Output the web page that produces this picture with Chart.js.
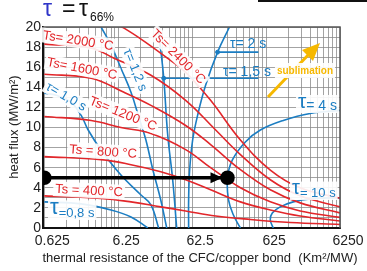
<!DOCTYPE html>
<html>
<head>
<meta charset="utf-8">
<script src="https://cdn.jsdelivr.net/npm/chart.js@4/dist/chart.umd.min.js"></script>
<style>
  html, body { margin: 0; padding: 0; background: #fff; }
</style>
</head>
<body>
<canvas id="fluxChart" width="367" height="271"></canvas>
<script>
// axis ticks
const xTickValues = [0.625, 6.25, 62.5, 625, 6250]
const xTickLabels = ['0.625', '6.25', '62.5', '625', '6250']
const yTickLabels = [0, 2, 4, 6, 8, 10, 12, 14, 16, 18, 20]

// surface temperature isotherms, points are [resistance, heat flux]
const ts400 = [[0.625, 3.2], [3.66, 2.95], [9.3, 2.6], [23.5, 2.1], [51, 1.7], [130, 1.2], [384, 0.85], [1326, 0.55], [6250, 0.35]]
const ts800 = [[0.625, 7.1], [3.66, 6.8], [9.3, 6.3], [23.5, 5.6], [51, 4.8], [111, 3.8], [281, 2.6], [713, 1.8], [1808, 1.2], [6250, 0.7]]
const ts1200 = [[0.625, 11.1], [2.69, 10.7], [6.8, 10.0], [17.3, 9.4], [51, 7.8], [111, 6.0], [281, 4.0], [713, 2.6], [1808, 1.7], [6250, 1.06]]
const ts1600 = [[0.625, 15.3], [2.69, 14.9], [7.47, 13.5], [17.3, 12.2], [51, 10.2], [111, 8.3], [281, 5.8], [713, 3.8], [1808, 2.5], [6250, 1.5]]
const ts2000 = [[0.625, 18.3], [2.69, 17.9], [5.48, 16.9], [17.3, 15.2], [51, 12.7], [130, 9.75], [281, 7.3], [713, 4.8], [1808, 3.2], [6250, 2.1]]
const ts2400 = [[5.5, 20.5], [12.7, 18.8], [30.2, 16.8], [51, 15.5], [111, 12.7], [281, 8.76], [713, 5.77], [1808, 4.0], [6250, 2.96]]

// time constant curves (tau = tau66%)
const tau08 = [[0.625, 2.6], [1.97, 2.4], [4.99, 1.8], [9.3, 1.1], [15.7, 0]]
const tau10 = [[0.625, 13.4], [0.906, 13.2], [1.44, 12.5], [1.97, 11.2], [2.45, 9.75], [3.66, 7.76], [6.8, 5.27], [12.7, 3.28], [17.3, 2.3], [22, 0]]
const tau12 = [[3.66, 20], [4.99, 18.2], [6.8, 15.9], [9.3, 13.5], [11.9, 11.0], [14.8, 8.76], [18.4, 5.77], [23.5, 2.79], [28.3, 0]]
const tau15 = [[21.4, 20], [23.5, 17.7], [25.8, 14.9], [29.2, 9.25], [34.1, 4.78], [38.6, 0]]
const tau2 = [[200, 20], [138, 17.5], [95, 14.2], [74, 11.2], [63.5, 8.76], [57.8, 5.77], [56, 2.79], [56, 0]]
const tau4 = [[6250, 11.7], [2466, 11.4], [1067, 10.7], [523, 9.75], [328, 8.56], [219, 6.77], [188, 4.98], [194, 2.79], [226, 1.29], [281, 0]]
const tau10s = [[6250, 3.0], [2466, 2.9], [1455, 2.6], [972, 2.1], [759, 1.5], [713, 0.8], [782, 0]]

// marked points on the 1.5 s and 2 s curves, and where their leaders end
const tau15Mark = [25.8, 14.9]
const tau2Mark = [138, 17.5]
const leaderEnd = 492

// operating point moved along the bond resistance at 5 MW/m2
const bondPath = [[0.625, 5], [188, 5]]

const RED = '#e2262a'
const BLUE = '#1b7dc2'
const GOLD = '#f6b800'
const FONT = 'Liberation Sans, Arial, sans-serif'

function pts (arr) {
  return arr.map(p => ({ x: p[0], y: p[1] }))
}

function curve (label, arr, color) {
  return {
    label: label,
    data: pts(arr),
    borderColor: color,
    borderWidth: 1.6,
    pointRadius: 0,
    showLine: true,
    tension: 0.4,
    fill: false
  }
}

// every minor line of the log grid
const xGrid = []
for (let d = 0; d < 4; d++) {
  for (let k = 1; k < 10; k++) xGrid.push(0.625 * k * Math.pow(10, d))
}
xGrid.push(6250)

function textBox (ctx, text, x, y, angle, color, font, bg) {
  ctx.save()
  ctx.translate(x, y)
  ctx.rotate(angle * Math.PI / 180)
  ctx.font = font
  ctx.textAlign = 'center'
  ctx.textBaseline = 'middle'
  const w = ctx.measureText(text).width
  if (bg) {
    ctx.fillStyle = 'rgba(255,255,255,0.9)'
    ctx.fillRect(-w / 2 - 2, -8, w + 4, 15)
  }
  ctx.fillStyle = color
  ctx.fillText(text, 0, 0)
  ctx.restore()
}

// tau label with a big tau and a smaller tail
function tauLabel (ctx, x, base, bigSize, tail, tailSize, tailDrop, color) {
  ctx.save()
  ctx.font = bigSize + 'px ' + FONT
  const w1 = ctx.measureText('τ').width
  ctx.font = tailSize + 'px ' + FONT
  const w2 = ctx.measureText(tail).width
  ctx.fillStyle = 'rgba(255,255,255,0.9)'
  ctx.fillRect(x - 2, base - bigSize * 0.62, w1 + w2 + 4, bigSize * 0.62 + tailDrop + 3)
  ctx.fillStyle = color
  ctx.textBaseline = 'alphabetic'
  ctx.font = bigSize + 'px ' + FONT
  ctx.fillText('τ', x, base)
  ctx.font = tailSize + 'px ' + FONT
  ctx.fillText(tail, x + w1, base + tailDrop)
  ctx.restore()
}

const decor = {
  id: 'decor',
  afterDraw (chart) {
    const ctx = chart.ctx
    const xs = chart.scales.x
    const ys = chart.scales.y
    const a = chart.chartArea

    // frame top and right
    ctx.save()
    ctx.strokeStyle = '#555'
    ctx.lineWidth = 1.5
    ctx.beginPath()
    ctx.moveTo(a.left, a.top)
    ctx.lineTo(a.right, a.top)
    ctx.lineTo(a.right, a.bottom)
    ctx.stroke()

    // arrow head of the bond path
    const tipX = xs.getPixelForValue(bondPath[1][0]) - 5
    const py = ys.getPixelForValue(bondPath[1][1])
    ctx.fillStyle = '#000'
    ctx.beginPath()
    ctx.moveTo(tipX, py)
    ctx.lineTo(tipX - 12, py - 5.5)
    ctx.lineTo(tipX - 12, py + 5.5)
    ctx.closePath()
    ctx.fill()

    // sublimation arrow
    ctx.strokeStyle = GOLD
    ctx.fillStyle = GOLD
    ctx.lineWidth = 3
    ctx.beginPath()
    ctx.moveTo(268, 97)
    ctx.lineTo(311, 52)
    ctx.stroke()
    ctx.beginPath()
    ctx.moveTo(320, 43)
    ctx.lineTo(302, 50)
    ctx.lineTo(313, 61)
    ctx.closePath()
    ctx.fill()
    ctx.restore()

    const f13 = '13px ' + FONT
    textBox(ctx, 'Ts= 2000 °C', 78, 41, 9, RED, f13, true)
    textBox(ctx, 'Ts= 1600 °C', 82, 69, 11, RED, f13, true)
    textBox(ctx, 'Ts= 1200 °C', 123, 114, 22, RED, f13, true)
    textBox(ctx, 'Ts = 800 °C', 103, 152, 4, RED, f13, true)
    textBox(ctx, 'Ts = 400 °C', 89, 191, 3, RED, f13, true)
    textBox(ctx, 'Ts= 2400 °C', 178, 57, 45, RED, f13, true)
    textBox(ctx, 'τ= 1,2 s', 135, 70, 68, BLUE, f13, true)
    textBox(ctx, 'τ= 1,0 s', 66, 97, 30, BLUE, f13, true)
    textBox(ctx, 'sublimation', 305, 71, 0, GOLD, 'bold 10px ' + FONT, true)

    ctx.save()
    ctx.fillStyle = BLUE
    ctx.font = '14px ' + FONT
    ctx.textBaseline = 'alphabetic'
    ctx.fillText('τ= 2 s', 230, 48)
    ctx.fillText('τ= 1,5 s', 223, 76)
    ctx.restore()

    tauLabel(ctx, 298, 108, 21, '= 4 s', 14, 2, BLUE)
    tauLabel(ctx, 292, 194, 20, '= 10 s', 13, 3, BLUE)
    tauLabel(ctx, 50, 214, 22, '=0,8 s', 13, 3, BLUE)

    // heading
    ctx.save()
    ctx.textBaseline = 'alphabetic'
    ctx.font = '23px ' + FONT
    ctx.fillStyle = '#2f35c8'
    ctx.fillText('τ', 43, 16)
    ctx.fillStyle = '#111'
    ctx.fillText('=', 62, 16)
    ctx.fillText('τ', 79, 16)
    ctx.font = '12px ' + FONT
    ctx.fillText('66%', 90, 21)
    ctx.fillRect(258, 0, 109, 2)

    // axis titles
    ctx.font = '13px ' + FONT
    ctx.fillStyle = '#222'
    ctx.textAlign = 'center'
    ctx.fillText('thermal resistance of the CFC/copper bond  (Km²/MW)', 200, 262)
    ctx.translate(18, 127)
    ctx.rotate(-Math.PI / 2)
    ctx.fillText('heat flux (MW/m²)', 0, 0)
    ctx.restore()
  }
}

const ctx = document.getElementById('fluxChart').getContext('2d')
const fluxChart = new Chart(ctx, {
  type: 'scatter',
  data: {
    datasets: [
      {
        label: 'bond path',
        data: pts(bondPath),
        borderColor: '#000',
        backgroundColor: '#000',
        borderWidth: 3.5,
        pointRadius: 5.5,
        showLine: true
      },
      {
        label: 'marks',
        data: pts([tau15Mark, tau2Mark]),
        backgroundColor: BLUE,
        borderColor: BLUE,
        pointRadius: 2,
        showLine: false
      },
      curve('leader 1.5 s', [tau15Mark, [leaderEnd, tau15Mark[1]]], BLUE),
      curve('leader 2 s', [tau2Mark, [leaderEnd, tau2Mark[1]]], BLUE),
      curve('Ts 400', ts400, RED),
      curve('Ts 800', ts800, RED),
      curve('Ts 1200', ts1200, RED),
      curve('Ts 1600', ts1600, RED),
      curve('Ts 2000', ts2000, RED),
      curve('Ts 2400', ts2400, RED),
      curve('tau 0.8', tau08, BLUE),
      curve('tau 1.0', tau10, BLUE),
      curve('tau 1.2', tau12, BLUE),
      curve('tau 1.5', tau15, BLUE),
      curve('tau 2', tau2, BLUE),
      curve('tau 4', tau4, BLUE),
      curve('tau 10', tau10s, BLUE)
    ]
  },
  options: {
    responsive: false,
    animation: false,
    devicePixelRatio: 1,
    layout: { padding: { top: 27, right: 27, left: 0, bottom: 0 } },
    plugins: {
      legend: { display: false },
      tooltip: { enabled: false }
    },
    scales: {
      x: {
        type: 'logarithmic',
        min: 0.625,
        max: 6250,
        afterBuildTicks: function (scale) {
          scale.ticks = xGrid.map(v => ({ value: v }))
        },
        afterFit: function (scale) { scale.height = 43 },
        grid: { color: '#8c8c8c', lineWidth: 0.8, drawTicks: false },
        border: { color: '#111', width: 2 },
        ticks: {
          autoSkip: false,
          maxRotation: 0,
          minRotation: 0,
          padding: 5,
          labelOffset: 8,
          color: '#222',
          font: { family: FONT, size: 14 },
          callback: function (value) {
            const i = xTickValues.findIndex(v => Math.abs(v - value) / v < 1e-6)
            return i >= 0 ? xTickLabels[i] : ''
          }
        }
      },
      y: {
        min: 0,
        max: 20,
        afterFit: function (scale) { scale.width = 43 },
        grid: { color: '#8c8c8c', lineWidth: 0.8, drawTicks: false },
        border: { color: '#111', width: 2 },
        ticks: {
          stepSize: 1,
          autoSkip: false,
          padding: 2,
          color: '#222',
          font: { family: FONT, size: 14 },
          callback: function (value) {
            return yTickLabels.includes(value) ? String(value) : ''
          }
        }
      }
    }
  },
  plugins: [decor]
})
</script>
</body>
</html>
